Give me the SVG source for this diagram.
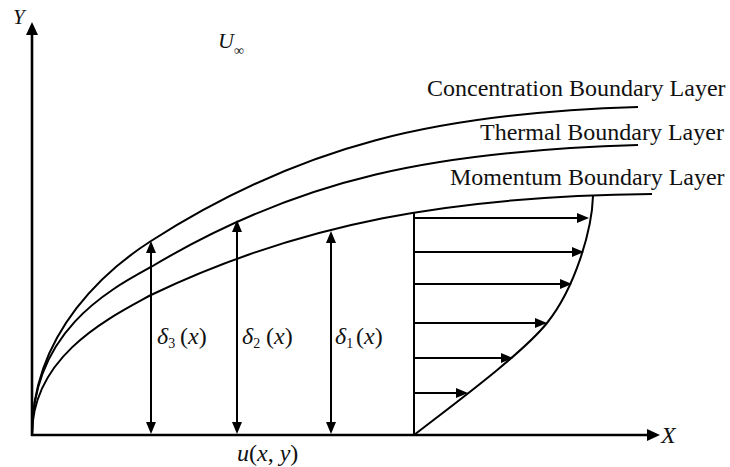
<svg xmlns="http://www.w3.org/2000/svg" width="730" height="467" viewBox="0 0 730 467">
<style>
.ln{stroke:#000;stroke-width:2;fill:none}
.ax{stroke:#000;stroke-width:2.6;fill:none}
.t{font-family:"Liberation Serif","Times New Roman",serif;fill:#111}
.i{font-style:italic}
</style>
<defs>
<marker id="ah" markerUnits="userSpaceOnUse" markerWidth="12" markerHeight="10" refX="6" refY="5" orient="auto-start-reverse" viewBox="0 0 12 10">
<path d="M0,0 L12,5 L0,10 z" fill="#000"/>
</marker>
<marker id="axh" markerUnits="userSpaceOnUse" markerWidth="13" markerHeight="12" refX="6" refY="6" orient="auto" viewBox="0 0 13 12">
<path d="M0,0 L13,6 L0,12 z" fill="#000"/>
</marker>
</defs>
<rect width="730" height="467" fill="#fff"/>
<g id="axes">
<line class="ax" x1="32" y1="436" x2="32" y2="29" marker-end="url(#axh)"/>
<line class="ax" x1="31" y1="435" x2="653" y2="435" marker-end="url(#axh)"/>
<text class="t i" x="13" y="24" font-size="21">Y</text>
<text class="t i" x="661" y="443" font-size="24">X</text>
</g>
<g id="freestream">
<text class="t" x="218" y="48" font-size="22"><tspan class="i">U</tspan><tspan font-size="14" dy="7">∞</tspan></text>
</g>
<g id="concentration-layer">
<path class="ln" d="M32,435 C32,330 111,266.6 151,241 C301,145 438,113 638,107"/>
<text class="t" x="427" y="96" font-size="24">Concentration Boundary Layer</text>
</g>
<g id="thermal-layer">
<path class="ln" d="M32,435 C32,330 111,289 151,267 C301,177 438,151 638,145"/>
<text class="t" x="480" y="140" font-size="24">Thermal Boundary Layer</text>
</g>
<g id="momentum-layer">
<path class="ln" d="M32,435 C32,355 111,317 151,295 C301,223 452,196 652,194"/>
<text class="t" x="450" y="185" font-size="24">Momentum Boundary Layer</text>
</g>
<g id="velocity-profile">
<line class="ln" x1="414" y1="435" x2="414" y2="212"/>
<path class="ln" d="M414,435 C454,404 522,354 547,323 C575,288 592,230 593,196"/>
<text class="t" x="237" y="461" font-size="24"><tspan class="i">u</tspan>(<tspan class="i">x</tspan>, <tspan class="i">y</tspan>)</text>
</g>
<g id="connectors">
<line class="ln" x1="414" y1="218" x2="583" y2="218" marker-end="url(#ah)"/>
<line class="ln" x1="414" y1="252" x2="578" y2="252" marker-end="url(#ah)"/>
<line class="ln" x1="414" y1="284" x2="566" y2="284" marker-end="url(#ah)"/>
<line class="ln" x1="414" y1="323" x2="541" y2="323" marker-end="url(#ah)"/>
<line class="ln" x1="414" y1="358" x2="507" y2="358" marker-end="url(#ah)"/>
<line class="ln" x1="414" y1="393" x2="462" y2="393" marker-end="url(#ah)"/>
<line class="ln" x1="151" y1="247" x2="151" y2="428" marker-start="url(#ah)" marker-end="url(#ah)"/>
<line class="ln" x1="237" y1="226" x2="237" y2="428" marker-start="url(#ah)" marker-end="url(#ah)"/>
<line class="ln" x1="331" y1="237" x2="331" y2="428" marker-start="url(#ah)" marker-end="url(#ah)"/>
</g>
<g id="delta-labels">
<text class="t" x="157" y="344" font-size="24"><tspan class="i">δ</tspan><tspan font-size="14" dy="4">3</tspan><tspan x="180" dy="-4">(</tspan><tspan class="i">x</tspan>)</text>
<text class="t" x="242" y="344" font-size="24"><tspan class="i">δ</tspan><tspan font-size="14" dy="4">2</tspan><tspan x="266" dy="-4">(</tspan><tspan class="i">x</tspan>)</text>
<text class="t" x="335" y="344" font-size="24"><tspan class="i">δ</tspan><tspan font-size="14" dy="4">1</tspan><tspan x="356" dy="-4">(</tspan><tspan class="i">x</tspan>)</text>
</g>
</svg>
